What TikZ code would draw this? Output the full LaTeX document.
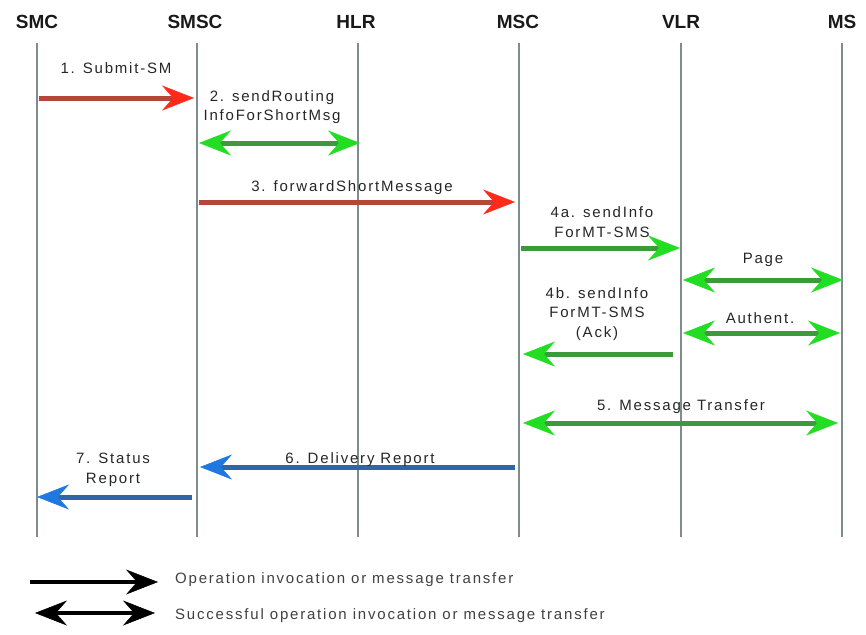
\documentclass[tikz,border=0pt]{standalone}
\usepackage{fontspec}
\setmainfont{Liberation Sans}
\newfontfamily\lblfont[LetterSpace=12]{Liberation Sans}
\usetikzlibrary{arrows.meta}
\definecolor{redshaft}{HTML}{B5463A}
\definecolor{redhead}{HTML}{FF2A1A}
\definecolor{grnshaft}{HTML}{3C9A3C}
\definecolor{grnhead}{HTML}{22DD22}
\definecolor{blushaft}{HTML}{2E66A8}
\definecolor{bluhead}{HTML}{1F78E0}
\definecolor{lifegray}{HTML}{7F8C8C}
\newcommand{\hdrfont}{\bfseries\fontsize{19}{22}\selectfont}
\newcommand{\msgfont}{\lblfont\fontsize{15}{19.5}\selectfont}

\begin{document}
\begin{tikzpicture}[x=1pt, y=-1pt,
    every node/.style={inner sep=0pt},
    hdr/.style={font=\hdrfont, text=black!90},
    lbl/.style={font=\msgfont, align=center, text=black!85},
    lifeline/.style={draw=lifegray, line width=1.6pt},
    tipr/.style={-{Stealth[length=32pt, width=25pt, inset=11pt, line width=0.5pt, color=#1]}},
    tipb/.style={{Stealth[length=32pt, width=25pt, inset=11pt, line width=0.5pt, color=#1]}-{Stealth[length=32pt, width=25pt, inset=11pt, line width=0.5pt, color=#1]}},
    redmsg/.style={draw=redshaft, line width=5pt, tipr=redhead},
    grnmsg/.style={draw=grnshaft, line width=5pt, tipr=grnhead},
    grnboth/.style={draw=grnshaft, line width=5pt, tipb=grnhead},
    blumsg/.style={draw=blushaft, line width=5pt, tipr=bluhead},
    ]
    \useasboundingbox (0,0) rectangle (866,634);
    % entities and lifelines
    \foreach \nm/\hx/\lx in {SMC/37/37, SMSC/195/197, HLR/356/358, MSC/518/519, VLR/681/681, MS/842/842} {
        \node[hdr] (\nm) at (\hx, 22) {\nm};
        \coordinate (\nm-t) at (\lx, 43);
        \coordinate (\nm-b) at (\lx, 537);
        \draw[lifeline] (\nm-t) -- (\nm-b);
    }
    %%%
    \coordinate (m1a) at (39, 98);   \coordinate (m1b) at (194, 98);
    \coordinate (m2a) at (199, 143); \coordinate (m2b) at (360, 143);
    \coordinate (m3a) at (199, 202); \coordinate (m3b) at (515, 202);
    \coordinate (m4a) at (521, 248); \coordinate (m4b) at (680, 248);
    \coordinate (pga) at (683, 280); \coordinate (pgb) at (843, 280);
    \coordinate (aua) at (683, 333); \coordinate (aub) at (840, 333);
    \coordinate (k4a) at (673, 354); \coordinate (k4b) at (523, 354);
    \coordinate (m5a) at (523, 423); \coordinate (m5b) at (838, 423);
    \coordinate (m6a) at (515, 467); \coordinate (m6b) at (200, 467);
    \coordinate (m7a) at (192, 497); \coordinate (m7b) at (37, 497);
    \draw[redmsg] (m1a) -- (m1b);
    \draw[grnboth] (m2a) -- (m2b);
    \draw[redmsg] (m3a) -- (m3b);
    \draw[grnmsg] (m4a) -- (m4b);
    \draw[grnboth] (pga) -- (pgb);
    \draw[grnboth] (aua) -- (aub);
    \draw[grnmsg] (k4a) -- (k4b);
    \draw[grnboth] (m5a) -- (m5b);
    \draw[blumsg] (m6a) -- (m6b);
    \draw[blumsg] (m7a) -- (m7b);
    %%%
    \node[lbl] (l1) at (116, 68) {1. Submit-SM};
    \node[lbl] (l2) at (272, 107) {2. sendRouting\\InfoForShortMsg};
    \node[lbl] (l3) at (352, 188) {3. forwardShortMessage};
    \node[lbl] (l4a) at (602, 222) {4a. sendInfo\\ForMT-SMS};
    \node[lbl] (lpg) at (763, 260) {Page};
    \node[lbl] (l4b) at (597, 314) {4b. sendInfo\\ForMT-SMS\\(Ack)};
    \node[lbl] (lau) at (760, 318) {Authent.};
    \node[lbl] (l5) at (681, 407) {5. Message Transfer};
    \node[lbl] (l6) at (360, 460) {6. Delivery Report};
    \node[lbl] (l7) at (113, 470) {7. Status\\Report};
    %%% legend
    \coordinate (g1a) at (30, 582);  \coordinate (g1b) at (158, 582);
    \coordinate (g2a) at (35, 613);  \coordinate (g2b) at (155, 613);
    \draw[draw=black, line width=4pt, tipr=black] (g1a) -- (g1b);
    \draw[draw=black, line width=4pt, tipb=black] (g2a) -- (g2b);
    \node[lbl, anchor=west, text=black!75] (lg1) at (175, 580) {Operation invocation or message transfer};
    \node[lbl, anchor=west, text=black!75] (lg2) at (175, 616) {Successful operation invocation or message transfer};
\end{tikzpicture}
\end{document}
